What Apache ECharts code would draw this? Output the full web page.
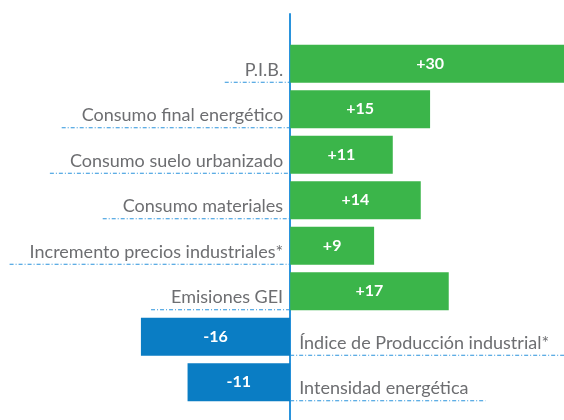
<!DOCTYPE html>
<html>
<head>
<meta charset="utf-8">
<script src="https://cdn.jsdelivr.net/npm/echarts@6/dist/echarts.min.js"></script>
<style>
  html, body { margin: 0; padding: 0; background: #fff; }
  #main { width: 564px; height: 420px; }
</style>
</head>
<body>
<div id="main"></div>
<script>
// categorías y variación (%)
var categories = [
  'P.I.B.',
  'Consumo final energético',
  'Consumo suelo urbanizado',
  'Consumo materiales',
  'Incremento precios industriales*',
  'Emisiones GEI',
  'Índice de Producción industrial*',
  'Intensidad energética'
];
var values = [30, 15, 11, 14, 9, 17, -16, -11];

var GREEN = '#3bb54a';
var BLUE = '#0a7dc4';
var LINE = '#2a93dc';
var TEXT = '#6d6e71';
var catFont = '18px Lato';

var ctx = document.createElement('canvas').getContext('2d');
function textWidth(s) {
  ctx.font = catFont;
  return ctx.measureText(s).width;
}

var chart = echarts.init(document.getElementById('main'), null, { renderer: 'canvas' });

var barData = values.map(function (v) {
  return { value: v, itemStyle: { color: v >= 0 ? GREEN : BLUE } };
});
var labelData = values.map(function (v, i) { return [v, i]; });

chart.setOption({
  animation: false,
  grid: [
    { left: 1, width: 569, top: 41, bottom: 15, outerBoundsMode: 'none' },
    { left: 1, width: 569, top: 14, bottom: 0, outerBoundsMode: 'none' }
  ],
  xAxis: [
    { type: 'value', gridIndex: 0, min: -31, max: 30, show: false },
    { type: 'value', gridIndex: 1, min: -31, max: 30, show: false }
  ],
  yAxis: [
    {
      type: 'category', gridIndex: 0, data: categories, inverse: true,
      axisLine: { show: false }, axisTick: { show: false }, axisLabel: { show: false }
    },
    {
      type: 'value', gridIndex: 1, min: 0, max: 1,
      axisLine: { show: true, onZero: true, lineStyle: { color: LINE, width: 2 } },
      axisTick: { show: false }, axisLabel: { show: false }, splitLine: { show: false }
    }
  ],
  series: [
    {
      type: 'bar',
      xAxisIndex: 0, yAxisIndex: 0,
      data: barData,
      barWidth: 38,
      label: {
        show: true,
        position: 'inside',
        color: '#fff',
        fontFamily: 'Lato',
        fontWeight: 'bold',
        fontSize: 16,
        formatter: function (p) { return (p.value > 0 ? '+' : '') + p.value; }
      }
    },
    {
      type: 'custom',
      xAxisIndex: 0, yAxisIndex: 0,
      data: labelData,
      z: 5,
      renderItem: function (params, api) {
        var v = api.value(0);
        var p = api.coord([0, api.value(1)]);
        var name = categories[params.dataIndex];
        var w = textWidth(name);
        var yLine = p[1] + 18.5;
        var tx, x1, x2, align;
        if (v >= 0) {
          tx = p[0] - 7; align = 'right';
          x1 = tx - w - 20; x2 = p[0];
        } else {
          tx = p[0] + 9; align = 'left';
          x1 = p[0]; x2 = tx + w + 17;
        }
        return {
          type: 'group',
          children: [
            {
              type: 'text',
              style: {
                text: name, x: tx, y: p[1] + 6,
                align: align, verticalAlign: 'middle',
                font: catFont, fill: TEXT
              }
            },
            {
              type: 'line',
              shape: { x1: x1, y1: yLine, x2: x2, y2: yLine },
              style: { stroke: LINE, lineWidth: 1, lineDash: [4, 2, 1, 2] }
            }
          ]
        };
      }
    }
  ]
});
</script>
</body>
</html>
